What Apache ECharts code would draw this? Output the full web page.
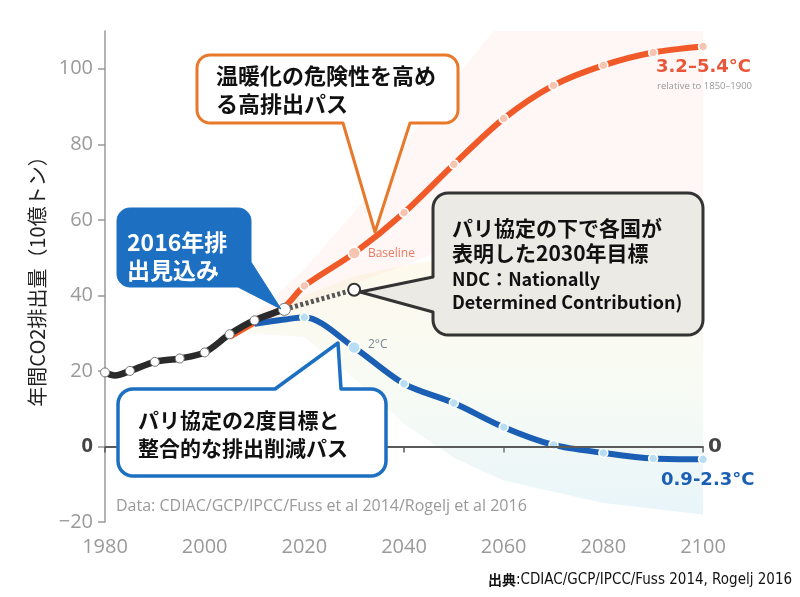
<!DOCTYPE html>
<html><head><meta charset="utf-8">
<script src="https://cdn.jsdelivr.net/npm/echarts@6/dist/echarts.min.js"></script>
<style>html,body{margin:0;padding:0;background:#fff}#c{width:800px;height:597px}</style>
</head><body><div id="c"></div>
<script>
// ---- data ----
const xTicks = [1980, 2000, 2020, 2040, 2060, 2080, 2100];
const yTicks = [-20, 0, 20, 40, 60, 80, 100];
const historical = [[1980,19.6],[1982,18.8],[1985,20.0],[1990,22.4],[1995,23.3],[2000,24.9],[2005,29.7],[2010,33.4],[2016,36.3]];
const baseline = [[2005,29.0],[2010,32.8],[2016,37.0],[2020,42.5],[2030,51.2],[2040,61.9],[2050,74.7],[2060,86.8],[2070,95.6],[2080,100.9],[2090,104.3],[2100,105.9]];
const twoDegree = [[2010,32.5],[2016,33.6],[2020,34.2],[2030,26.2],[2040,16.6],[2050,11.5],[2060,5.1],[2070,0.4],[2080,-1.7],[2090,-3.2],[2100,-3.4]];
const ndc = [[2016,36.3],[2030,41.5]];
// scenario fan envelopes (read from the faint bundles)
const pinkUpper = [[2008,32],[2020,47],[2030,62],[2040,80],[2050,97],[2058,110],[2100,110]];
const pinkLower = [[2008,31],[2020,37],[2030,43],[2040,48],[2050,53],[2060,57],[2080,62],[2100,65]];
const fanUpper = [[2008,32],[2020,40],[2030,45],[2040,48],[2050,50],[2060,50],[2080,48],[2100,45]];
const fanLower = [[2008,30],[2020,29],[2030,18],[2040,6],[2050,-3],[2060,-9],[2080,-15],[2100,-18]];

const chart = echarts.init(document.getElementById('c'), null, {renderer:'canvas'});
const JP = '"Noto Sans CJK JP", sans-serif';
const NUM = '"Open Sans", "Lato", sans-serif';
const WIDE = '"DejaVu Sans", sans-serif';

function bandSeries(upper, lower, fill) {
  return {
    type: 'custom', z: 1, silent: true, clip: true,
    data: [0],
    renderItem: function (params, api) {
      const pts = upper.map(p => api.coord(p)).concat(lower.slice().reverse().map(p => api.coord(p)));
      return { type: 'polygon', shape: { points: pts }, style: { fill: fill } };
    }
  };
}

function calloutPoints(x, y, w, h, r, ptr) {
  const pts = [];
  const arc = (cx, cy, a0, a1) => { for (let i = 0; i <= 8; i++) { const a = (a0 + (a1 - a0) * i / 8) * Math.PI / 180; pts.push([cx + r * Math.cos(a), cy + r * Math.sin(a)]); } };
  arc(x + r, y + r, 180, 270);
  if (ptr.side === 'top') pts.push([ptr.a, y], ptr.tip, [ptr.b, y]);
  arc(x + w - r, y + r, 270, 360);
  if (ptr.side === 'right') pts.push([x + w, ptr.a], ptr.tip, [x + w, ptr.b]);
  if (ptr.side === 'corner') pts.push([x + w, ptr.a], ptr.tip, [ptr.b, y + h]);
  else arc(x + w - r, y + h - r, 0, 90);
  if (ptr.side === 'bottom') pts.push([ptr.b, y + h], ptr.tip, [ptr.a, y + h]);
  arc(x + r, y + h - r, 90, 180);
  if (ptr.side === 'left') pts.push([x, ptr.b], ptr.tip, [x, ptr.a]);
  return pts;
}
function txt(x, y, text, font, fill) {
  return { type: 'text', x: x, y: y, z: 102, style: { text: text, font: font, fill: fill, align: 'left', verticalAlign: 'middle', textAlign: 'left', textVerticalAlign: 'middle' } };
}
function box(points, fill, stroke, lw) {
  return { type: 'polygon', z: 100, shape: { points: points }, style: { fill: fill, stroke: stroke, lineWidth: lw, lineJoin: 'round' } };
}

const option = {
  animation: false,
  backgroundColor: '#ffffff',
  grid: { left: 105, right: 97, top: 31, bottom: 75 },
  xAxis: {
    type: 'value', min: 1980, max: 2100, interval: 20,
    splitLine: { show: false },
    axisLine: { show: true, lineStyle: { color: '#555', width: 1.5 } },
    axisTick: { show: true, length: 6, lineStyle: { color: '#555', width: 1.5 }, customValues: xTicks },
    axisLabel: { customValues: xTicks, margin: 15, color: '#9a9a9a', fontSize: 20, fontFamily: NUM, formatter: v => String(v) }
  },
  yAxis: {
    type: 'value', min: -20, max: 110,
    name: '年間CO2排出量（10億トン）', nameLocation: 'middle', nameRotate: 90, nameGap: 57,
    nameTextStyle: { fontFamily: JP, fontSize: 20, color: '#222' },
    splitLine: { show: false },
    axisLine: { show: true, onZero: false, lineStyle: { color: '#999', width: 1.5 } },
    axisTick: { show: true, length: 7, lineStyle: { color: '#999', width: 1.5 }, customValues: yTicks },
    axisLabel: {
      customValues: yTicks, margin: 12, color: '#9a9a9a', fontSize: 20, fontFamily: NUM,
      formatter: v => v === 0 ? '{b|0}' : (v < 0 ? '\u2212' + Math.abs(v) : String(v)),
      rich: { b: { fontWeight: 'bold', color: '#444', fontSize: 20, fontFamily: NUM } }
    }
  },
  series: [
    bandSeries(pinkUpper, pinkLower, 'rgba(242,150,130,0.08)'),
    bandSeries(fanUpper, fanLower, new echarts.graphic.LinearGradient(0, 0, 0, 1, [
      { offset: 0, color: 'rgba(250,228,170,0.22)' },
      { offset: 0.5, color: 'rgba(220,236,205,0.22)' },
      { offset: 1, color: 'rgba(170,218,236,0.27)' }])),
    {
      name: 'zero', type: 'line', data: [], z: 2,
      markLine: {
        silent: true, symbol: 'none', animation: false,
        lineStyle: { color: '#5a5a5a', width: 2, type: 'solid' },
        label: { show: true, position: 'end', formatter: '0', distance: 5, color: '#444', fontSize: 20, fontWeight: 'bold', fontFamily: WIDE },
        data: [{ yAxis: 0 }]
      }
    },
    {
      name: 'Baseline', type: 'line', data: baseline, z: 3, smooth: 0.3,
      lineStyle: { color: '#f05a28', width: 6 },
      symbol: v => v[0] >= 2020 ? 'circle' : 'none',
      symbolSize: v => v[0] === 2030 ? 12 : 9,
      itemStyle: { color: '#f8c4b2', borderColor: '#fff', borderWidth: 1.5 },
      label: { show: true, position: 'right', distance: 7, color: '#ec7a62', fontSize: 12, fontFamily: NUM,
        formatter: p => p.value[0] === 2030 ? 'Baseline' : '' }
    },
    {
      name: '2°C', type: 'line', data: twoDegree, z: 3, smooth: 0.3,
      lineStyle: { color: '#1b5fb5', width: 6 },
      symbol: v => v[0] >= 2020 ? 'circle' : 'none',
      symbolSize: v => v[0] === 2030 ? 12 : 9,
      itemStyle: { color: '#b8def3', borderColor: '#fff', borderWidth: 1.5 },
      label: { show: true, position: 'right', distance: 7, offset: [0, -3], color: '#7b8797', fontSize: 12, fontFamily: NUM,
        formatter: p => p.value[0] === 2030 ? '2°C' : '' }
    },
    {
      name: 'NDC', type: 'line', data: ndc, z: 4,
      lineStyle: { color: '#555', width: 5, type: [3, 2.5] },
      symbol: v => v[0] === 2030 ? 'circle' : 'none',
      symbolSize: 12,
      itemStyle: { color: '#fff', borderColor: '#333', borderWidth: 2 }
    },
    {
      name: 'Historical', type: 'line', data: historical, z: 5, smooth: 0.3,
      lineStyle: { color: '#2a2a2a', width: 6.5 },
      symbol: v => (v[0] % 5 === 0 || v[0] === 2016) ? 'circle' : 'none',
      symbolSize: v => v[0] === 2016 ? 12 : 9,
      itemStyle: { color: '#fff', borderColor: '#777', borderWidth: 1 }
    }
  ],
  graphic: [
    // orange callout
    box(calloutPoints(197, 55, 261, 68, 13, { side: 'bottom', a: 343, b: 410, tip: [375, 232] }), '#fff', '#e8782a', 3),
    txt(216, 76, '温暖化の危険性を高め', 'bold 22px ' + JP, '#111'),
    txt(216, 104, 'る高排出パス', 'bold 22px ' + JP, '#111'),
    // 2016 blue filled callout
    box(calloutPoints(117, 208, 134, 79, 13, { side: 'corner', a: 262, b: 238, tip: [281, 309] }), '#1c6fc1', '#1c6fc1', 1),
    txt(127, 242, '2016年排', 'bold 23px ' + JP, '#fff'),
    txt(127, 270, '出見込み', 'bold 23px ' + JP, '#fff'),
    // NDC gray callout
    box(calloutPoints(433, 193, 270, 142, 15, { side: 'left', a: 277, b: 312, tip: [360, 292] }), '#ebeae5', '#333', 3),
    txt(452, 228, 'パリ協定の下で各国が', 'bold 21px ' + JP, '#111'),
    txt(452, 253, '表明した2030年目標', 'bold 21px ' + JP, '#111'),
    txt(452, 279, 'NDC：Nationally', 'bold 18px ' + JP, '#111'),
    txt(452, 302, 'Determined Contribution)', 'bold 18px ' + JP, '#111'),
    // bottom blue outline callout
    box(calloutPoints(118, 389, 268, 87, 15, { side: 'top', a: 275, b: 341, tip: [338, 343] }), '#fff', '#1c6fc1', 3.5),
    txt(138, 420, 'パリ協定の2度目標と', 'bold 21px ' + JP, '#111'),
    txt(138, 448, '整合的な排出削減パス', 'bold 21px ' + JP, '#111'),
    // end labels
    txt(656, 67, '3.2–5.4°C', 'bold 18px ' + WIDE, '#e9563a'),
    txt(657, 86, 'relative to 1850–1900', '9.5px ' + NUM, '#999'),
    txt(661, 480, '0.9-2.3°C', 'bold 18px ' + WIDE, '#1b5fb5'),
    txt(116, 506, 'Data: CDIAC/GCP/IPCC/Fuss et al 2014/Rogelj et al 2016', '16px ' + NUM, '#9a9a9a'),
    {
      type: 'text', x: 488, y: 580, z: 102,
      style: {
        text: '{b|出典}{n|:CDIAC/GCP/IPCC/Fuss 2014, Rogelj 2016}',
        verticalAlign: 'middle', textVerticalAlign: 'middle',
        rich: {
          b: { font: 'bold 14px ' + JP, fill: '#111' },
          n: { font: '15px "Liberation Sans Narrow", "DejaVu Sans Condensed", sans-serif', fill: '#111' }
        }
      }
    }
  ]
};
chart.setOption(option);
</script>
</body></html>
